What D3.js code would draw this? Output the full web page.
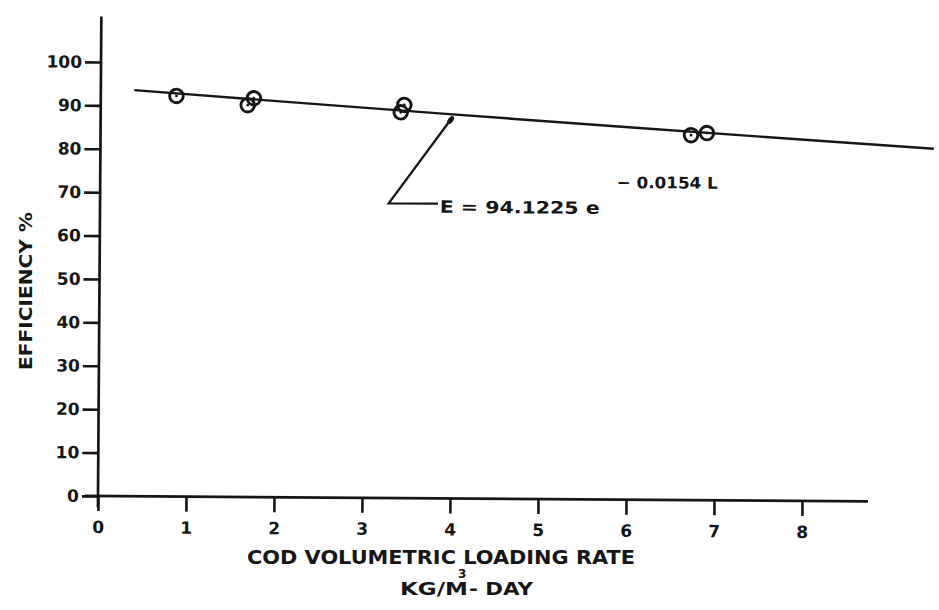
<!DOCTYPE html>
<html>
<head>
<meta charset="utf-8">
<script src="https://cdn.jsdelivr.net/npm/d3@7"></script>
<style>
  body { margin: 0; background: #fff; }
  svg { display: block; background: #fff; }
  text { font-family: "DejaVu Sans", "Liberation Sans", sans-serif; font-weight: bold; fill: #161616; }
</style>
</head>
<body>
<svg id="chart" width="939" height="610"></svg>
<script>
// Measured COD loading rate (kg/m3-day) and removal efficiency (%)
const loadingRate = [0.86, 1.74, 1.67, 3.45, 3.41, 6.71, 6.89];
const efficiency  = [92.3, 91.9, 90.3, 90.6, 88.9, 84.1, 84.6];

// Axis ticks
const xTicks = [0, 1, 2, 3, 4, 5, 6, 7, 8];
const yTicks = [0, 10, 20, 30, 40, 50, 60, 70, 80, 90, 100];

// Fitted curve E = A * e^(k L)
const fitA = 94.1225;
const fitK = -0.0154;
const fitSamples = [0.38, 2, 4, 6, 8, 9.47];

const svg = d3.select("#chart");
const ink = "#161616";

// Plot frame (the drawing sits very slightly tilted on the sheet)
const plot = svg.append("g")
  .attr("transform", "translate(98,496) rotate(0.4)");

const x = d3.scaleLinear().domain([0, 8]).range([0, 704]);
const y = d3.scaleLinear().domain([0, 100]).range([0, -434]);

// Axis lines
plot.append("line")
  .attr("x1", x(0)).attr("x2", x(0))
  .attr("y1", y(110.5)).attr("y2", y(-2.6))
  .attr("stroke", ink).attr("stroke-width", 2.7);
plot.append("line")
  .attr("x1", x(-0.15)).attr("x2", x(8.75))
  .attr("y1", y(0)).attr("y2", y(0))
  .attr("stroke", ink).attr("stroke-width", 2.7);

function styleTicks(g) {
  g.select(".domain").remove();
  g.selectAll(".tick line").attr("stroke", ink).attr("stroke-width", 2.6);
  g.selectAll(".tick text")
    .attr("fill", ink)
    .style("font-size", "17px")
    .style("font-family", "'DejaVu Sans', sans-serif")
    .style("font-weight", "bold");
}

// Y axis ticks and labels
plot.append("g")
  .call(d3.axisLeft(y).tickValues(yTicks).tickSize(16).tickPadding(3).tickFormat(d3.format("d")))
  .call(styleTicks);

// X axis ticks and labels
plot.append("g")
  .call(d3.axisBottom(x).tickValues(xTicks).tickSize(15).tickPadding(10).tickFormat(d3.format("d")))
  .call(styleTicks);

// Fitted exponential curve
const fitLine = d3.line()
  .x(d => x(d))
  .y(d => y(fitA * Math.exp(fitK * d)));
plot.append("path")
  .datum(fitSamples)
  .attr("d", fitLine)
  .attr("fill", "none")
  .attr("stroke", ink)
  .attr("stroke-width", 2.4);

// Observed points: open circles with a centre dot
const pts = plot.append("g");
loadingRate.forEach((L, i) => {
  pts.append("circle")
    .attr("cx", x(L)).attr("cy", y(efficiency[i]))
    .attr("r", 6.8)
    .attr("fill", "none")
    .attr("stroke", ink)
    .attr("stroke-width", 2.9);
  pts.append("circle")
    .attr("cx", x(L)).attr("cy", y(efficiency[i]))
    .attr("r", 1.4)
    .attr("fill", ink);
});

// Leader from the equation to the curve
const tip = [x(4.0), y(87.9)];
const corner = [x(3.28), y(67.9)];
const foot = [x(3.84), y(67.9)];
plot.append("path")
  .attr("d", d3.line()([foot, corner, tip]))
  .attr("fill", "none")
  .attr("stroke", ink)
  .attr("stroke-width", 2.3);
const ang = Math.atan2(tip[1] - corner[1], tip[0] - corner[0]) * 180 / Math.PI;
plot.append("ellipse")
  .attr("transform", `translate(${tip[0] - 2},${tip[1] + 3}) rotate(${ang})`)
  .attr("rx", 4.5).attr("ry", 2.6)
  .attr("fill", ink);

// Equation text
plot.append("text")
  .attr("x", x(3.86)).attr("y", y(65.8))
  .attr("textLength", 160).attr("lengthAdjust", "spacingAndGlyphs")
  .style("font-size", "17px")
  .text("E = 94.1225 e");
plot.append("text")
  .attr("x", x(5.87)).attr("y", y(71.8))
  .attr("textLength", 101).attr("lengthAdjust", "spacingAndGlyphs")
  .style("font-size", "16px")
  .text("− 0.0154 L");

// Axis titles
svg.append("text")
  .attr("x", 441).attr("y", 564)
  .attr("text-anchor", "middle")
  .attr("textLength", 388).attr("lengthAdjust", "spacingAndGlyphs")
  .style("font-size", "19px")
  .text("COD VOLUMETRIC LOADING RATE");

svg.append("text")
  .attr("x", 400).attr("y", 595)
  .attr("textLength", 68).attr("lengthAdjust", "spacingAndGlyphs")
  .style("font-size", "18px")
  .text("KG/M");
svg.append("text")
  .attr("x", 458).attr("y", 578)
  .style("font-size", "12px")
  .text("3");
svg.append("text")
  .attr("x", 469).attr("y", 595)
  .attr("textLength", 64).attr("lengthAdjust", "spacingAndGlyphs")
  .style("font-size", "18px")
  .text("- DAY");

svg.append("text")
  .attr("transform", "translate(32,291) rotate(-90)")
  .attr("text-anchor", "middle")
  .attr("textLength", 158).attr("lengthAdjust", "spacingAndGlyphs")
  .style("font-size", "17px")
  .text("EFFICIENCY %");
</script>
</body>
</html>
